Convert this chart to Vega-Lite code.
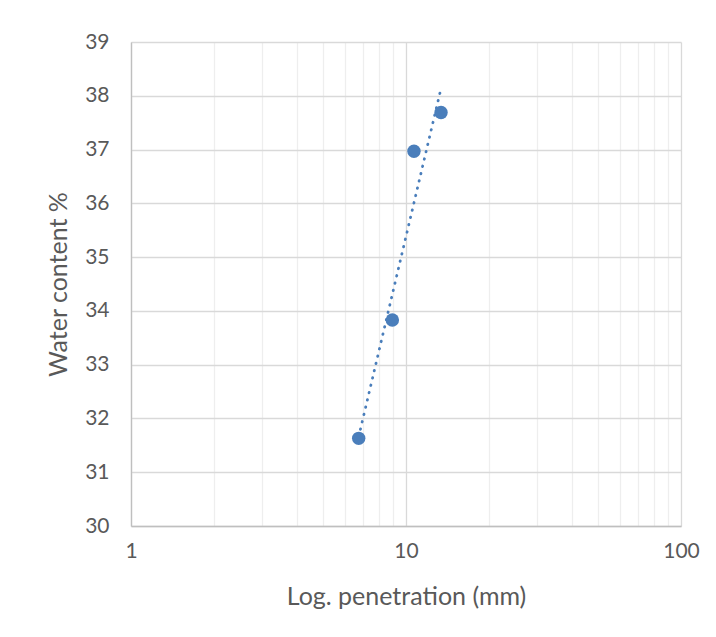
{
  "$schema": "https://vega.github.io/schema/vega-lite/v6.json",
  "width": 550,
  "height": 484,
  "autosize": {"type": "none"},
  "padding": {"left": 131, "top": 42, "right": 35, "bottom": 111},
  "background": "white",
  "config": {
    "font": "Lato",
    "view": {"stroke": null},
    "axis": {"labelFont": "Lato", "titleFont": "Lato", "labelColor": "#595959", "titleColor": "#595959", "labelFontWeight": "normal", "titleFontWeight": "normal"}
  },
  "data": {
    "values": [
      {"penetration": 6.73, "water": 31.63},
      {"penetration": 8.92, "water": 33.83},
      {"penetration": 10.69, "water": 36.97},
      {"penetration": 13.41, "water": 37.69}
    ]
  },
  "encoding": {
    "x": {
      "field": "penetration",
      "type": "quantitative",
      "scale": {"type": "log", "domain": [1, 100], "nice": false},
      "axis": {
        "title": "Log. penetration (mm)",
        "titleFontSize": 25,
        "titlePadding": 23,
        "values": [1, 2, 3, 4, 5, 6, 7, 8, 9, 10, 20, 30, 40, 50, 60, 70, 80, 90, 100],
        "labelExpr": "datum.value == 1 || datum.value == 10 || datum.value == 100 ? datum.label : ''",
        "labelFontSize": 21,
        "labelPadding": 14,
        "ticks": false,
        "domainColor": "#bfbfbf",
        "domainWidth": 1.3,
        "grid": true,
        "gridColor": {"condition": {"test": "datum.value == 1 || datum.value == 10 || datum.value == 100", "value": "#d9d9d9"}, "value": "#eeeeee"},
        "gridWidth": 1.3,
        "labelFlush": false,
        "labelOverlap": false
      }
    },
    "y": {
      "field": "water",
      "type": "quantitative",
      "scale": {"domain": [30, 39], "nice": false, "zero": false},
      "axis": {
        "title": "Water content %",
        "titleFontSize": 25,
        "titlePadding": 13,
        "values": [30, 31, 32, 33, 34, 35, 36, 37, 38, 39],
        "labelFontSize": 21,
        "labelPadding": 22,
        "ticks": false,
        "domainColor": "#bfbfbf",
        "domainWidth": 1.3,
        "grid": true,
        "gridColor": "#d9d9d9",
        "gridWidth": 1.3
      }
    }
  },
  "layer": [
    {
      "transform": [{"regression": "water", "on": "penetration", "method": "log"}],
      "mark": {"type": "line", "color": "#4a7ebb", "strokeWidth": 2.8, "strokeCap": "round", "strokeDash": [0.5, 7]}
    },
    {
      "mark": {"type": "circle", "color": "#4a7ebb", "opacity": 1, "size": 180}
    }
  ]
}
